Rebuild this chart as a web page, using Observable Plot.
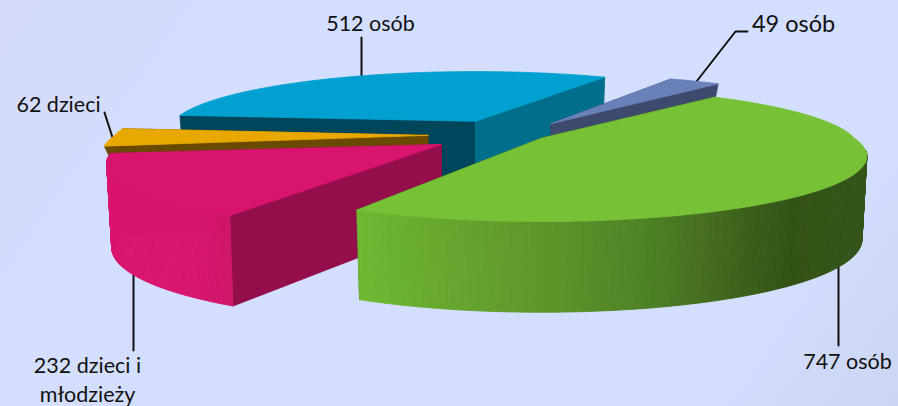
<!DOCTYPE html>
<html lang="pl">
<head>
<meta charset="utf-8">
<script src="https://cdn.jsdelivr.net/npm/d3@7"></script>
<script src="https://cdn.jsdelivr.net/npm/@observablehq/plot@0.6"></script>
<style>
html,body{margin:0;padding:0;width:898px;height:406px;overflow:hidden;
background:linear-gradient(125deg,#d6daf9 0%,#d4dcfc 14%,#d4deff 24%,#d4deff 84%,#cfdaf8 90%,#cad6f2 100%);}
svg{display:block;background:transparent!important;}
</style>
</head>
<body>
<div id="chart"></div>
<script>
// Data, in clockwise drawing order from the grey-blue slice
const names  = ["seg49","seg747","seg232","seg62","seg512"];
const values = [49, 747, 232, 62, 512];

const labelTexts = ["49 osób","747 osób","232 dzieci i","młodzieży","62 dzieci","512 osób"];

// Styles
const topColors  = ["#6a80b8","#76c136","#d9146e","#e8a800","#00a0d0"];
const faceColorsA= ["#3d4a6e","#35541a","#950e4c","#6a4a00","#00465a"];
const faceColorsB= ["#3d4a6e","#35541a","#950e4c","#6a4a00","#006f8c"];
const wallStops  = [
  [[0,"#3d4a6e"],[1,"#3d4a6e"]],
  [[357,"#70b934"],[440,"#67a82f"],[540,"#5f962a"],[640,"#4f8325"],[700,"#466f20"],[790,"#325215"],[868,"#35541a"]],
  [[105,"#d9146e"],[190,"#d9146e"],[235,"#cc1667"]],
  [[0,"#6a4a00"],[1,"#6a4a00"]],
  [[0,"#00465a"],[1,"#00465a"]]
];

// 3D pie layout: a perspective ellipse, exploded slices with their own heights
const startDeg = -61;
const centre = [512, 134];
const RX = 318, RY = 61.4, K = 0.278, DEPTH_Q = 0.15, FOOT = 0.985, BACK_GROW = 0.1;
const explode = [0.225, 0.107, 0.265, 0.265, 0.26];
const heights = [14, 80, 81, 10, 60];
const radiusScale = [0.945, 0.985, 1.01, 0.985, 0.95];
// small perspective corrections of the slice edges, degrees
const nudgeStart = [-1.6, -0.8, 2, 0.2, 2];
const nudgeEnd   = [-1, -1.5, 2, 2.5, 0.5];
const paintOrder = [4, 0, 3, 2, 1];

const total = d3.sum(values);
const rad = d => d * Math.PI / 180;
function project(X, Y) {
  const w = 1 - K * Y;
  return [RX * X / w, RY * Y / w];
}
let acc = startDeg;
const slices = values.map((v, i) => {
  const a0 = acc, a1 = acc + v / total * 360;
  acc = a1;
  const mid = rad((a0 + a1) / 2);
  const off = project(explode[i] * Math.cos(mid), explode[i] * Math.sin(mid));
  return {i, a0: a0 + nudgeStart[i], a1: a1 + nudgeEnd[i],
          apex: [centre[0] + off[0], centre[1] + off[1]], h: heights[i]};
});
const rim = (s, deg) => {
  const c = Math.cos(rad(deg)), n = Math.sin(rad(deg));
  const r = radiusScale[s.i] * (1 + BACK_GROW * Math.max(0, -n));
  const p = project(r * c, r * n);
  return {top: [s.apex[0] + p[0], s.apex[1] + p[1]],
          bot: [s.apex[0] + p[0] * FOOT, s.apex[1] + p[1] * FOOT + s.h * (1 + DEPTH_Q * n)]};
};
const apexBot = s => [s.apex[0], s.apex[1] + s.h];

const polygons = [];
let pid = 0;
function addPoly(points, fill) {
  pid++;
  for (const [x, y] of [...points, points[0]]) polygons.push({x, y, fill, id: pid});
}
function wallColor(stops, x) {
  if (x <= stops[0][0]) return stops[0][1];
  for (let k = 1; k < stops.length; k++) {
    if (x <= stops[k][0]) {
      const t = (x - stops[k-1][0]) / (stops[k][0] - stops[k-1][0]);
      return d3.rgb(d3.interpolateRgb(stops[k-1][1], stops[k][1])(t)).formatHex();
    }
  }
  return stops[stops.length - 1][1];
}
for (const idx of paintOrder) {
  const s = slices[idx];
  const ab = apexBot(s);
  const r0 = rim(s, s.a0), r1 = rim(s, s.a1);
  // radial faces
  addPoly([s.apex, r0.top, r0.bot, ab], faceColorsA[idx]);
  addPoly([s.apex, r1.top, r1.bot, ab], faceColorsB[idx]);
  // rim wall strips, only those that face the viewer
  const step = 0.5;
  for (let d = s.a0; d < s.a1 - 1e-6; d += step) {
    const e = Math.min(d + step, s.a1);
    if (Math.sin(rad(d)) < 0.2 && Math.sin(rad(e)) < 0.2) continue;
    const p = rim(s, d), q = rim(s, e);
    addPoly([p.top, q.top, q.bot, p.bot], wallColor(wallStops[idx], (p.top[0] + q.top[0]) / 2));
  }
  // top face
  const topPts = [s.apex];
  for (let d = s.a0; d < s.a1; d += 1) topPts.push(rim(s, d).top);
  topPts.push(r1.top);
  addPoly(topPts, topColors[idx]);
}

// Annotations
const leaders = [
  {k:"a", x:696, y:81}, {k:"a", x:735, y:31}, {k:"a", x:747, y:31},
  {k:"c", x:133, y:271}, {k:"c", x:133, y:350},
  {k:"b", x:838, y:262}, {k:"b", x:838, y:345},
  {k:"d", x:104, y:112}, {k:"d", x:112, y:137},
  {k:"e", x:361, y:37}, {k:"e", x:361, y:76}
];
const labels = [
  {t:labelTexts[0], x:793, y:24, s:23.5},
  {t:labelTexts[1], x:847, y:362, s:21.5},
  {t:labelTexts[2], x:87, y:366, s:21.5},
  {t:labelTexts[3], x:87, y:395, s:21.5},
  {t:labelTexts[4], x:58, y:105, s:21.5},
  {t:labelTexts[5], x:370, y:24, s:21.5}
];
const labelMark = s => Plot.text(labels.filter(d => d.s === s), {
  x:"x", y:"y", text:"t", fontSize:s, fill:"#111", textAnchor:"middle",
  fontFamily:"Lato, Carlito, sans-serif"
});

const chart = Plot.plot({
  width: 898, height: 406, margin: 0,
  x: {domain:[0,898], range:[0,898], axis:null},
  y: {domain:[0,406], range:[0,406], axis:null},
  color: {type:"identity"},
  marks: [
    Plot.line(leaders, {x:"x", y:"y", z:"k", stroke:"#111", strokeWidth:2, strokeLinejoin:"miter"}),
    Plot.line(polygons, {x:"x", y:"y", z:"id", fill:"fill", stroke:"fill", strokeWidth:0.8}),
    labelMark(21.5),
    labelMark(23.5)
  ]
});
document.getElementById("chart").append(chart);
</script>
</body>
</html>
